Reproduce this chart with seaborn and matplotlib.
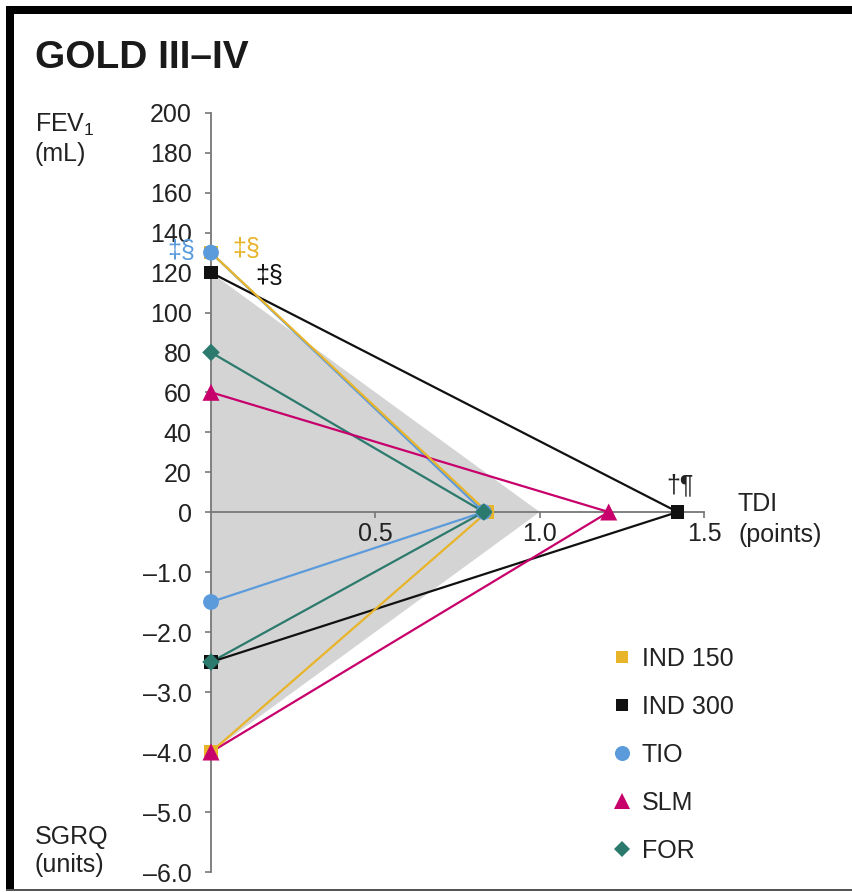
import matplotlib
matplotlib.use("Agg")
import matplotlib.pyplot as plt
import numpy as np
import pandas as pd
import seaborn as sns
from matplotlib.lines import Line2D
from matplotlib.patches import Rectangle

# ---- data -------------------------------------------------------------
treatments = ["IND 150", "IND 300", "TIO", "SLM", "FOR"]
fev1_ml = [130, 120, 130, 60, 80]          # trough FEV1 difference vs placebo (mL)
tdi_points = [0.84, 1.42, 0.83, 1.21, 0.83]  # TDI focal score difference (points)
sgrq_units = [-4.0, -2.5, -1.5, -4.0, -2.5]  # SGRQ total score difference (units)

# reference triangle (shaded area)
ref_fev1 = 120
ref_tdi = 1.0
ref_sgrq = -4.0

fev_ticks = [0, 20, 40, 60, 80, 100, 120, 140, 160, 180, 200]
sgrq_ticks = [-1.0, -2.0, -3.0, -4.0, -5.0, -6.0]
tdi_ticks = [0.5, 1.0, 1.5]

# significance marks: (treatment, text, dx px, dy px, ha)
sig_marks_fev = [("TIO", "‡§", -16, 2, "right"),
                 ("IND 150", "‡§", 21, 4, "left"),
                 ("IND 300", "‡§", 44, -3, "left")]
sig_mark_tdi = ("IND 300", "†¶")

palette = {"IND 150": "#E8B42A", "IND 300": "#111111", "TIO": "#5B9BDC",
           "SLM": "#C7006B", "FOR": "#2C7A6D"}
markers = {"IND 150": "s", "IND 300": "s", "TIO": "o", "SLM": "^", "FOR": "D"}
sizes = {"IND 150": 95, "IND 300": 95, "TIO": 130, "SLM": 150, "FOR": 80}
line_order = ["TIO", "FOR", "IND 300", "SLM", "IND 150"]

# ---- style ------------------------------------------------------------
sns.set_theme(style="ticks")
plt.rcParams["font.family"] = ["Liberation Sans", "DejaVu Sans"]
plt.rcParams["mathtext.default"] = "regular"
TXT = "#222222"
AX = "#777777"
FS = 18

W, H = 852, 892
fig = plt.figure(figsize=(W / 100, H / 100), dpi=100)
fig.patch.set_facecolor("white")


def fx(px):
    return px / W


def fy(py):
    return 1 - py / H


x_left, x_right = 211, 704
y_top, y_zero, y_bottom = 113, 512, 872
ax_bot = fig.add_axes([fx(x_left), fy(y_bottom), (x_right - x_left) / W, (y_bottom - y_zero) / H])
ax_top = fig.add_axes([fx(x_left), fy(y_zero), (x_right - x_left) / W, (y_zero - y_top) / H])
ax_bot.set_zorder(1)
ax_top.set_zorder(2)

for ax in (ax_top, ax_bot):
    ax.set_facecolor("none")
    ax.set_xlim(0, 1.5)
    for s in ("top", "right"):
        ax.spines[s].set_visible(False)
    for s in ("left", "bottom"):
        ax.spines[s].set_color(AX)
        ax.spines[s].set_linewidth(1.3)
        ax.spines[s].set_zorder(2.5)
ax_bot.spines["bottom"].set_visible(False)
ax_top.set_ylim(0, 200)
ax_bot.set_ylim(-6, 0)

# ---- shaded reference region -----------------------------------------
ax_top.fill([0, ref_tdi, 0], [0, 0, ref_fev1], color="#D4D4D4", lw=0, zorder=1)
ax_bot.fill([0, ref_tdi, 0], [0, 0, ref_sgrq], color="#D4D4D4", lw=0, zorder=1)

# ---- long-form tables --------------------------------------------------
n = len(treatments)
top_df = pd.DataFrame({"treatment": treatments * 2,
                       "TDI": [0.0] * n + tdi_points,
                       "value": fev1_ml + [0.0] * n})
bot_df = pd.DataFrame({"treatment": treatments * 2,
                       "TDI": tdi_points + [0.0] * n,
                       "value": [0.0] * n + sgrq_units})

sns.lineplot(data=top_df, x="TDI", y="value", hue="treatment", hue_order=line_order,
             palette=palette, estimator=None, sort=False, legend=False,
             linewidth=1.6, ax=ax_top, zorder=3)
sns.lineplot(data=bot_df, x="TDI", y="value", hue="treatment", hue_order=line_order,
             palette=palette, estimator=None, sort=False, legend=False,
             linewidth=1.6, ax=ax_bot, zorder=3)

# markers on each axis
sns.scatterplot(data=top_df, x="TDI", y="value", hue="treatment", style="treatment",
                size="treatment", hue_order=treatments, style_order=treatments,
                size_order=treatments, palette=palette, markers=markers, sizes=sizes,
                legend=False, linewidth=0, ax=ax_top, zorder=5, clip_on=False)
sgrq_pts = bot_df[bot_df["TDI"] == 0.0]
sns.scatterplot(data=sgrq_pts, x="TDI", y="value", hue="treatment", style="treatment",
                size="treatment", hue_order=treatments, style_order=treatments,
                size_order=treatments, palette=palette, markers=markers, sizes=sizes,
                legend=False, linewidth=0, ax=ax_bot, zorder=5, clip_on=False)

# ---- ticks -------------------------------------------------------------
ax_top.set_yticks(fev_ticks)
ax_top.set_yticklabels([str(v) for v in fev_ticks])
ax_top.set_xticks(tdi_ticks)
ax_top.set_xticklabels([f"{v:.1f}" for v in tdi_ticks])
ax_bot.set_yticks(sgrq_ticks)
ax_bot.set_yticklabels([f"{v:.1f}".replace("-", "\u2013") for v in sgrq_ticks])
ax_bot.set_xticks([])
for ax in (ax_top, ax_bot):
    ax.tick_params(axis="y", direction="out", length=4, width=1.2, color=AX,
                   pad=10, labelsize=FS, labelcolor=TXT)
ax_top.tick_params(axis="x", direction="out", length=4, width=1.2, color=AX,
                   pad=3, labelsize=FS, labelcolor=TXT)
for ax in (ax_top, ax_bot):
    ax.set_xlabel("")
    ax.set_ylabel("")

# ---- significance marks -----------------------------------------------
for name, txt, dx, dy, ha in sig_marks_fev:
    i = treatments.index(name)
    ax_top.annotate(txt, xy=(0, fev1_ml[i]), xytext=(dx, dy), textcoords="offset pixels",
                    ha=ha, va="center", fontsize=FS, color=palette[name],
                    annotation_clip=False, zorder=6)
i = treatments.index(sig_mark_tdi[0])
ax_top.annotate(sig_mark_tdi[1], xy=(tdi_points[i], 0), xytext=(2, 20),
                textcoords="offset pixels", ha="center", va="baseline", fontsize=FS,
                color=TXT, annotation_clip=False, zorder=6)

# ---- axis titles -------------------------------------------------------
fig.text(fx(35), fy(68), "GOLD III\u2013IV", fontsize=28, fontweight="bold",
         color="#1a1a1a", va="baseline", ha="left")
fig.text(fx(35), fy(132), "FEV$_1$", fontsize=FS, color=TXT, va="baseline")
fig.text(fx(35), fy(161), "(mL)", fontsize=FS, color=TXT, va="baseline")
fig.text(fx(35), fy(844), "SGRQ", fontsize=FS, color=TXT, va="baseline")
fig.text(fx(35), fy(872), "(units)", fontsize=FS, color=TXT, va="baseline")
fig.text(fx(738), fy(511), "TDI", fontsize=FS, color=TXT, va="baseline")
fig.text(fx(738), fy(542), "(points)", fontsize=FS, color=TXT, va="baseline")

# ---- legend -------------------------------------------------------------
handles = [Line2D([], [], linestyle="none", marker=markers[t], color=palette[t],
                  markersize=np.sqrt(sizes[t]) * 0.95, markeredgewidth=0)
           for t in treatments]
fig.legend(handles, treatments, loc="upper left", bbox_to_anchor=(fx(612), fy(647)),
           frameon=False, fontsize=FS, labelcolor=TXT, handlelength=0.8,
           handletextpad=0.4, labelspacing=0.96, borderpad=0, borderaxespad=0)

# ---- frame --------------------------------------------------------------
fig.add_artist(Rectangle((fx(6), fy(14)), 1 - fx(6), 8 / H, transform=fig.transFigure,
                         color="black", lw=0))
fig.add_artist(Rectangle((fx(6), fy(889)), 8 / W, (889 - 6) / H, transform=fig.transFigure,
                         color="black", lw=0))
fig.add_artist(Rectangle((fx(6), fy(891)), 1 - fx(6), 2 / H, transform=fig.transFigure,
                         color="#555555", lw=0))

fig.savefig("out.png", dpi=100, facecolor="white")
